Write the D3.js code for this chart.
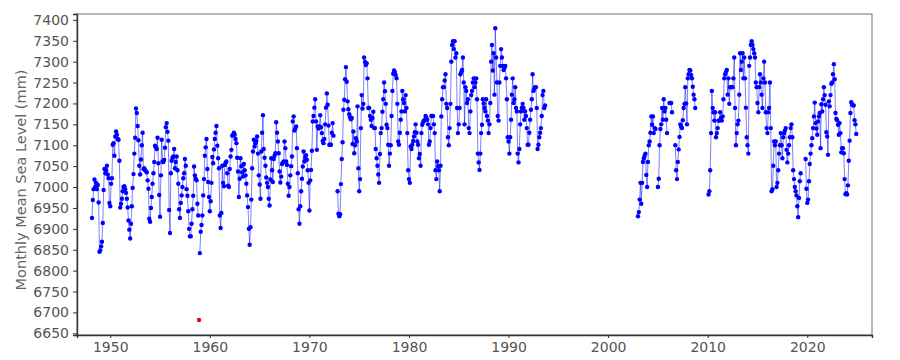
<!DOCTYPE html>
<html>
<head>
<meta charset="utf-8">
<script src="https://cdn.jsdelivr.net/npm/d3@7"></script>
<style>
  body { margin: 0; background: #fff; }
  svg { display: block; font-family: "DejaVu Sans", sans-serif; }
</style>
</head>
<body>
<div id="vis"></div>
<script>
// monthly mean sea level (mm), Jan..Dec per row, null = no reading
const msl1948to1959 = [
  null, null, 6926, 6969, 6995, 7018, 7000, 7010, 6995, 7005, 6963, 6845,
  6848, 6858, 6869, 6914, 6993, 7043, 7033, 7040, 7051, 7030, 7021, 6962,
  6954, 7008, 7021, 7101, 7105, 7075, 7121, 7133, 7125, 7115, 7113, 7063,
  6951, 6960, 6972, 6990, 7000, 7002, 6995, 6986, 6972, 6951, 6920, 6898,
  6877, 6912, 6954, 6998, 7031, 7080, 7118, 7188, 7177, 7146, 7112, 7051,
  7030, 7066, 7100, 7130, 7043, 7045, 7040, 7038, 7035, 7016, 6996, 6924,
  6917, 6950, 6976, 7008, 7033, 7060, 7099, 7095, 7091, 7118, 7057, 6981,
  6929, 7028, 7113, 7061, 7060, 7065, 7094, 7143, 7153, 7132, 7111, 6945,
  6890, 7033, 7063, 7070, 7073, 7091, 7045, 7060, 7073, 7040, 7008, 6947,
  6926, 6962, 6980, 7000, 7021, 7033, 7067, 7051, 6995, 6979, 6942, 6900,
  6882, 6882, 6912, 6947, 6979, 7049, 7028, 7020, 7016, 6960, 6932, null,
  6842, 6893, 6909, 6932, 6980, 7019, 7075, 7095, 7115, 7043, 7012, 6976
];
const msl1960s = [
  6942, 6966, 7010, 7072, 7057, 7090, 7115, 7130, 7146, 7099, 7069, 7045,
  6932, 6902, 6938, 7051, 7010, 7002, 7053, 7058, 7061, 7033, 7003, 7000,
  7043, 7073, 7089, 7123, 7125, 7130, 7125, 7115, 7105, 7070, 7037, 6976,
  7020, 7069, 7050, 7035, 7025, 7055, 7040, 7028, 7008, 6980, 6952, 6900,
  6862, 6904, 6970, 7045, 7085, 7113, 7097, 7105, 7110, 7121, 7080, 7028,
  7006, 6972, 7085, 7130, 7172, 7091, 7070, 7051, 7023, 7010, 7000, 6972,
  6956, 7018, 7069, 7040, 7012, 7067, 7075, 7081, 7155, 7130, 7109, 7081,
  7037, 7011, 7025, 7055, 7058, 7061, 7109, 7093, 7061, 7053, 7008, 6979,
  7000, 7028, 7050, 7073, 7157, 7169, 7135, 7140, 7145, 7093, 7033, 6947,
  6912, 6954, 6990, 7020, 7049, 7085, 7061, 7070, 7076, 7065, 7040, 7010
];
const msl1970s = [
  6944, 7016, 7041, 7087, 7157, 7170, 7190, 7210, 7157, 7089, 7145, 7140,
  7145, 7172, 7143, 7129, 7110, 7105, 7115, 7150, 7190, 7224, 7197, 7147,
  7101, 7101, 7101, 7130, 7153, 7123, null, null, null, null, 6990, 6936,
  6930, 6935, 7007, 7067, 7107, 7185, 7209, 7258, 7287, 7252, 7205, 7186,
  7174, 7167, 7162, 7165, 7103, 7133, 7081, 7100, 7117, 7109, 7193, 7045,
  6990, 7019, 7141, 7220, 7188, 7199, 7310, 7299, 7292, 7296, 7260, 7189,
  7189, 7170, 7161, 7146, 7165, 7180, 7141, 7141, 7091, 7069, 7051, 7030,
  7010, 7079, 7129, 7141, 7180, 7210, 7250, 7229, 7199, 7149, 7141, 7101,
  7051, 7080, 7100, 7170, 7230, 7271, 7279, 7275, 7268, 7260, 7199, 7109,
  7101, 7130, 7161, 7181, 7230, 7210, 7201, 7181, 7220, 7189, 7129, 7040
];
const msl1980s = [
  7019, 7010, 7097, 7091, 7101, 7110, 7121, 7131, 7150, 7130, 7109, 7101,
  7069, 7079, 7051, 7129, 7149, 7155, 7159, 7161, 7170, 7165, 7161, 7150,
  7101, 7109, 7141, 7170, 7170, 7170, 7150, 7129, 7040, 7019, 7061, 7050,
  7040, 6990, 7051, 7169, 7210, 7239, 7239, 7255, 7270, 7199, 7189, 7119,
  7100, 7141, 7199, 7300, 7340, 7349, 7330, 7349, 7310, 7320, 7189, 7129,
  7150, 7189, 7270, 7275, 7280, 7310, 7250, 7150, 7239, 7230, 7201, 7210,
  7141, 7129, 7181, 7220, 7230, 7250, 7260, 7239, 7250, 7260, 7210, 7080,
  7059, 7041, 7080, 7129, 7149, 7210, 7200, 7189, 7181, 7210, 7170, 7159,
  7129, 7150, 7201, 7300, 7340, 7279, 7320, 7221, 7380, 7310, 7250, 7170,
  7159, 7250, 7290, 7330, 7310, 7290, 7280, 7285, 7290, 7260, 7210, 7119
];
const msl1990to1993 = [
  7109, 7080, 7119, 7161, 7221, 7260, 7201, 7210, 7239, 7189, 7181, 7080,
  7059, 7091, 7150, 7181, 7190, 7199, 7189, 7161, 7181, 7170, 7141, 7101,
  7101, 7130, 7161, 7185, 7210, 7270, 7230, 7235, 7239, 7239, 7189, 7091,
  7101, 7119, 7130, 7141, 7170, 7220, 7230, 7189, 7195, null, null, null
];
const msl2003to2009 = [
  6930, 6940, 6970, 7010, 6960, 7010, 7060, 7069, 7075, 7080, 7029, 7000,
  7060, 7100, 7109, 7130, 7169, 7149, 7169, 7129, 7141, 7139, null, null,
  7000, 7020, 7100, 7139, 7150, 7189, 7161, 7210, 7181, 7189, 7161, 7129,
  null, null, 7201, 7201, 7201, 7179, null, null, null, 7100, 7040, 7019,
  7060, 7090, 7120, 7150, 7145, 7141, 7160, 7189, 7199, 7239, 7200, 7150,
  7260, 7270, 7280, 7279, 7268, 7260, 7240, 7221, 7210, 7189, null, null,
  null, null, null, null, null, null, null, null, null, null, null, null
];
const msl2010s = [
  null, 6982, 6990, 7040, 7129, 7230, 7189, 7179, 7159, 7179, 7119, 7129,
  7141, 7159, 7159, 7179, 7165, 7159, 7169, 7210, 7260, 7270, 7275, 7280,
  7221, 7260, 7199, 7239, 7239, 7239, 7239, 7260, 7310, 7189, 7100, 7129,
  7150, 7159, 7221, 7320, 7280, 7300, 7320, 7260, 7310, 7260, 7190, 7119,
  7100, 7080, 7290, 7310, 7340, 7349, 7340, 7330, 7320, 7310, 7250, 7239,
  7201, 7179, 7239, 7270, 7250, 7221, 7189, 7260, 7300, 7250, 7179, 7141,
  7129, 7179, 7189, 7250, 7141, 6990, 6995, 7051, 7109, 7100, 7109, 7000,
  7010, 7040, 7080, 7100, 7129, 7100, 7069, 7119, 7129, 7135, 7141, 7089,
  7059, 7080, 7100, 7119, 7141, 7150, 7119, 7040, 7019, 7000, 6990, 6980,
  6954, 6928, 6974, 7014, 7033, null, null, null, null, null, 7067, 6996
];
const msl2020to2024 = [
  6962, 6970, 7014, 7055, 7080, 7100, 7117, 7141, 7169, 7202, 7153, 7140,
  7125, 7157, 7169, 7177, 7093, 7198, 7181, 7210, 7239, 7220, 7197, 7131,
  7121, 7077, 7205, 7193, 7220, 7247, 7250, 7270, 7294, 7258, 7177, 7163,
  7160, 7149, 7125, 7153, 7129, 7083, 7093, 7093, 7081, 7019, 6983, 6985,
  6982, 7004, 7063, 7111, 7177, 7203, 7197, 7196, 7195, 7160, 7150, 7127
];
const segmentStarts = [1948, 1960, 1970, 1980, 1990, 2003, 2010, 2020];
const segmentValues = [msl1948to1959, msl1960s, msl1970s, msl1980s,
                       msl1990to1993, msl2003to2009, msl2010s, msl2020to2024];

// flagged reading, drawn apart from the series
const outlierYears = [1958];
const outlierMonths = [12];
const outlierValues = [6682];

const xTicks = [1950, 1960, 1970, 1980, 1990, 2000, 2010, 2020];
const yTicks = [6650, 6700, 6750, 6800, 6850, 6900, 6950, 7000,
                7050, 7100, 7150, 7200, 7250, 7300, 7350, 7400];

const frame_width = 900;
const frame_height = 360;
const margins = {left: 77, right: 28, top: 14, bottom: 25};

// build the series: month m of a block sits at start + m/12
let points = [];
segmentValues.forEach((vals, s) => {
    vals.forEach((v, i) => {
        points.push({t: segmentStarts[s] + i / 12, v: v});
    });
    points.push({t: null, v: null});
});
const outliers = outlierYears.map((y, i) => ({t: y + (outlierMonths[i] - 1) / 12, v: outlierValues[i]}));

const svg = d3.select("#vis")
    .append("svg")
        .attr("width", frame_width)
        .attr("height", frame_height);

const x_scale = d3.scaleLinear()
    .domain([1946.66, 2026.5])
    .range([margins.left, frame_width - margins.right]);
const y_scale = d3.scaleLinear()
    .domain([6646, 7414])
    .range([frame_height - margins.bottom, margins.top]);

// blocks that follow on month to month stay joined; real gaps break the line
const joined = points.filter((d, i) => {
    if (d.t !== null) return true;
    const next = points[i + 1];
    const prev = points[i - 1];
    if (!next || !prev) return false;
    return Math.abs(next.t - prev.t - 1 / 12) > 0.01;
});

const line = d3.line()
    .defined((d) => d.v !== null)
    .x((d) => x_scale(d.t))
    .y((d) => y_scale(d.v));

svg.append("path")
    .datum(joined)
    .attr("d", line)
    .attr("fill", "none")
    .attr("stroke", "#0000ff")
    .attr("stroke-opacity", 0.5)
    .attr("stroke-width", 1);

svg.selectAll(".dot")
    .data(points.filter((d) => d.v !== null))
    .enter()
    .append("circle")
        .attr("class", "dot")
        .attr("cx", (d) => x_scale(d.t))
        .attr("cy", (d) => y_scale(d.v))
        .attr("r", 2.2)
        .attr("fill", "#0000ff");

svg.selectAll(".outlier")
    .data(outliers)
    .enter()
    .append("circle")
        .attr("class", "outlier")
        .attr("cx", (d) => x_scale(d.t))
        .attr("cy", (d) => y_scale(d.v))
        .attr("r", 2.2)
        .attr("fill", "#ff0000");

// frame: light top/right, darker axes left/bottom
svg.append("rect")
    .attr("x", margins.left)
    .attr("y", margins.top)
    .attr("width", frame_width - margins.left - margins.right)
    .attr("height", frame_height - margins.top - margins.bottom)
    .attr("fill", "none")
    .attr("stroke", "#888")
    .attr("stroke-width", 1.2);

const yAxis = svg.append("g")
    .attr("transform", "translate(" + margins.left + ",0)")
    .call(d3.axisLeft(y_scale).tickValues(yTicks).tickFormat(d3.format("d")).tickSize(4).tickPadding(4));

const xAxis = svg.append("g")
    .attr("transform", "translate(0," + (frame_height - margins.bottom) + ")")
    .call(d3.axisBottom(x_scale).tickValues(xTicks).tickFormat(d3.format("d")).tickSize(3).tickPadding(4));

[yAxis, xAxis].forEach((g) => {
    g.select(".domain").attr("stroke", "#333").attr("stroke-width", 1.4);
    g.selectAll(".tick line").attr("stroke", "#333");
    g.selectAll(".tick text")
        .attr("fill", "#555")
        .attr("font-size", "14px")
        .attr("font-family", "DejaVu Sans, sans-serif");
});

svg.append("text")
    .attr("transform", "translate(21,180) rotate(-90)")
    .attr("text-anchor", "middle")
    .attr("dominant-baseline", "central")
    .attr("fill", "#666")
    .attr("font-size", "14.5px")
    .text("Monthly Mean Sea Level (mm)");
</script>
</body>
</html>
